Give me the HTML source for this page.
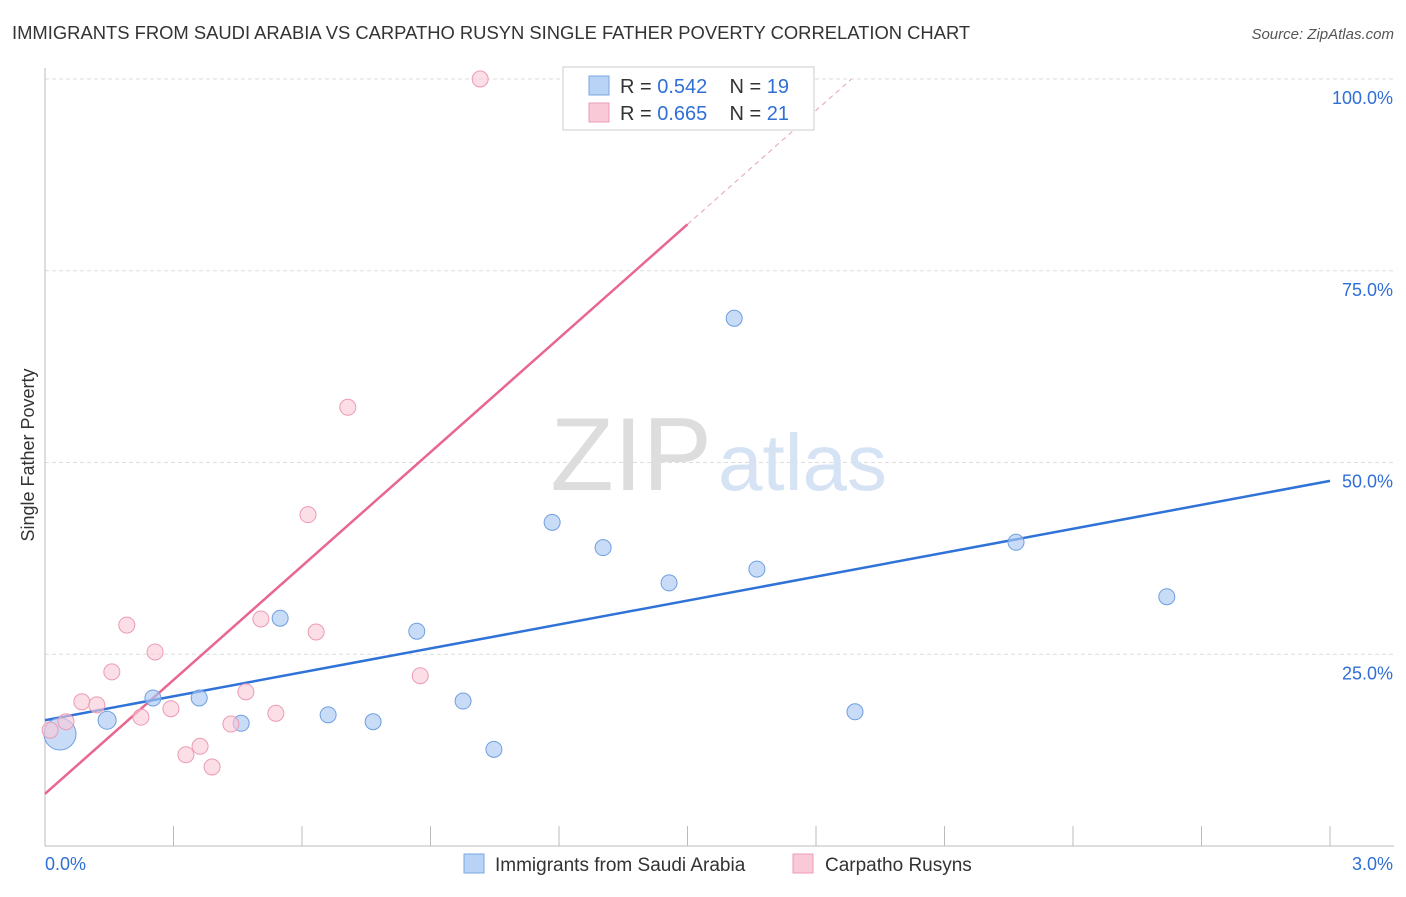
<!DOCTYPE html>
<html><head><meta charset="utf-8"><style>
body{margin:0;background:#fff;font-family:"Liberation Sans",sans-serif;}
svg text{font-family:"Liberation Sans",sans-serif;}
</style></head><body>
<svg id="chart" width="1406" height="892">
<text x="12" y="39" font-size="18.4" fill="#333">IMMIGRANTS FROM SAUDI ARABIA VS CARPATHO RUSYN SINGLE FATHER POVERTY CORRELATION CHART</text>
<text x="1394" y="39" font-size="15" fill="#555" font-style="italic" text-anchor="end">Source: ZipAtlas.com</text>
<g id="grid"></g>
<text x="712" y="490" font-size="104" fill="#ddd" font-family="Liberation Serif" text-anchor="end">ZIP</text>
<text x="718" y="490" font-size="80" fill="#d5e3f5">atlas</text>
<text x="34" y="455" font-size="18" fill="#333" text-anchor="middle" transform="rotate(-90 34 455)">Single Father Poverty</text>
<g id="lines"></g>
<g id="pts"></g>
<g>
<rect x="563" y="67" width="251" height="63" fill="#fff" stroke="#ccc"/>
<rect x="589" y="76" width="20" height="19" fill="#b8d3f5" stroke="#7aa7e0"/>
<rect x="589" y="103" width="20" height="19" fill="#fac9d8" stroke="#ef9ab5"/>
<text x="620" y="93" font-size="20" fill="#333">R = <tspan fill="#2f6fd6">0.542</tspan>&#160;&#160;&#160; N = <tspan fill="#2f6fd6">19</tspan></text>
<text x="620" y="120" font-size="20" fill="#333">R = <tspan fill="#2f6fd6">0.665</tspan>&#160;&#160;&#160; N = <tspan fill="#2f6fd6">21</tspan></text>
</g>
<g>
<rect x="464" y="854" width="20" height="19" fill="#b8d3f5" stroke="#7aa7e0"/>
<text x="495" y="871" font-size="19" fill="#333">Immigrants from Saudi Arabia</text>
<rect x="793" y="854" width="20" height="19" fill="#fac9d8" stroke="#ef9ab5"/>
<text x="825" y="871" font-size="19" fill="#333">Carpatho Rusyns</text>
</g>
</svg>
<script>
const blueX=[0.035,0.145,0.252,0.36,0.458,0.549,0.661,0.766,0.868,0.976,1.048,1.184,1.303,1.457,1.609,1.662,1.891,2.267,2.619];
const blueY=[14.6,16.4,19.3,19.3,16.0,29.7,17.1,16.2,28.0,18.9,12.6,42.2,38.9,34.3,68.8,36.1,17.5,39.6,32.5];
const blueR=[16,9,8,8,8,8,8,8,8,8,8,8,8,8,8,8,8,8,8];
const pinkX=[0.012,0.049,0.086,0.121,0.156,0.191,0.224,0.257,0.294,0.329,0.362,0.39,0.434,0.469,0.504,0.539,0.614,0.633,0.707,0.876,1.016];
const pinkY=[15.1,16.2,18.8,18.4,22.7,28.8,16.8,25.3,17.9,11.9,13.0,10.3,15.9,20.1,29.6,17.3,43.2,27.9,57.2,22.2,100];
const blueTrend=[16.4,47.6];   // y at x=0 and x=3
const pinkTrend=[6.8,49.5];    // intercept, slope per %
const yTicks=[25,50,75,100];
const yTickLabels=["25.0%","50.0%","75.0%","100.0%"];
const xTicks=[0,0.3,0.6,0.9,1.2,1.5,1.8,2.1,2.4,2.7,3.0];
const NS="http://www.w3.org/2000/svg";
const sx=v=>45+v/3*1285, sy=v=>846-v/100*767;
function mk(tag,attrs,parent){const e=document.createElementNS(NS,tag);for(const k in attrs)e.setAttribute(k,attrs[k]);parent.appendChild(e);return e;}
const grid=document.getElementById('grid'),lines=document.getElementById('lines'),pts=document.getElementById('pts');
yTicks.forEach((t,i)=>{
 const l=mk('line',{x1:45,x2:1394,y1:sy(t),y2:sy(t),stroke:'#ddd','stroke-dasharray':'4 3'},grid);
 
 
 const tx=mk('text',{x:1393,y:sy(t)+25,'font-size':18,fill:'#2f6fd6','text-anchor':'end'},grid);
 tx.textContent=yTickLabels[i];
 
 
});
const ax=mk('line',{x1:45,x2:1394,y1:846,y2:846,stroke:'#bbb'},grid);


const ay=mk('line',{x1:45,x2:45,y1:68,y2:846,stroke:'#bbb'},grid);


xTicks.forEach((t,i)=>{
 const l=mk('line',{x1:sx(t),x2:sx(t),y1:826,y2:846,stroke:'#bbb'},grid);
 
 
});
const xl0=mk('text',{x:45,y:870,'font-size':18,fill:'#2f6fd6'},grid);xl0.textContent='0.0%';


const xl1=mk('text',{x:1393,y:870,'font-size':18,fill:'#2f6fd6','text-anchor':'end'},grid);xl1.textContent='3.0%';


const pEnd=1.5, pFull=(100-pinkTrend[0])/pinkTrend[1];
const pl=mk('line',{x1:sx(0),y1:sy(pinkTrend[0]),x2:sx(pEnd),y2:sy(pinkTrend[0]+pinkTrend[1]*pEnd),stroke:'#e8668f','stroke-width':2.5},lines);


const pd=mk('line',{x1:sx(pEnd),y1:sy(pinkTrend[0]+pinkTrend[1]*pEnd),x2:sx(pFull),y2:sy(100),stroke:'#e8a0b6','stroke-width':1,'stroke-dasharray':'5 4'},lines);


const bl=mk('line',{x1:sx(0),y1:sy(blueTrend[0]),x2:sx(3),y2:sy(blueTrend[1]),stroke:'#2f72d8','stroke-width':2.5},lines);


blueX.forEach((x,i)=>{
 const c=mk('circle',{cx:sx(x),cy:sy(blueY[i]),r:blueR[i],fill:'rgba(170,200,243,0.65)',stroke:'#6f9fe0','stroke-width':1},pts);
 
 
});
pinkX.forEach((x,i)=>{
 const c=mk('circle',{cx:sx(x),cy:sy(pinkY[i]),r:8,fill:'rgba(250,200,215,0.6)',stroke:'#ec9bb4','stroke-width':1},pts);
 
 
});
</script>
</body></html>
